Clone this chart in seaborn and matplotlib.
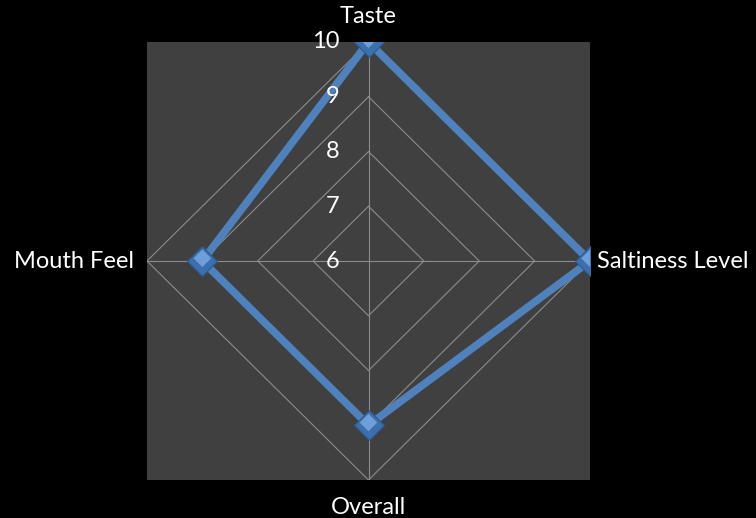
import numpy as np
import pandas as pd
import matplotlib
matplotlib.use("Agg")
import matplotlib.pyplot as plt
import seaborn as sns

# Radar chart data
categories = ["Taste", "Saltiness Level", "Overall", "Mouth Feel"]
scores = [10, 10, 9, 9]
scale_ticks = [6, 7, 8, 9, 10]
r_min, r_max = 6, 10

sns.set_theme(style="dark")
plt.rcParams["font.family"] = ["Lato", "DejaVu Sans"]

fig = plt.figure(figsize=(7.56, 5.18), dpi=100, facecolor="black")
ax = fig.add_axes([147 / 756, 38 / 518, 443 / 756, 438 / 518])
ax.set_facecolor("#404040")
span = r_max - r_min
ax.set_xlim(-span, span)
ax.set_ylim(-span, span)
for s in ax.spines.values():
    s.set_visible(False)
ax.set_xticks([])
ax.set_yticks([])
ax.grid(False)

# Axes go clockwise from the top
n = len(categories)
angles = np.pi / 2 - np.arange(n) * 2 * np.pi / n
ux, uy = np.cos(angles), np.sin(angles)

grid_col = "#8c8c8c"
# Polygon gridlines at each scale step
for t in scale_ticks[1:]:
    rr = t - r_min
    gx = np.append(ux * rr, ux[0] * rr)
    gy = np.append(uy * rr, uy[0] * rr)
    ax.plot(gx, gy, color=grid_col, lw=0.8, zorder=1)
# Spokes
for i in range(n):
    ax.plot([0, ux[i] * span], [0, uy[i] * span], color=grid_col, lw=0.8, zorder=1)

# Series (closed polygon)
rad = np.array(scores) - r_min
df = pd.DataFrame({
    "x": np.append(ux * rad, ux[0] * rad[0]),
    "y": np.append(uy * rad, uy[0] * rad[0]),
})
sns.lineplot(data=df, x="x", y="y", sort=False, estimator=None, color="#4f81bd",
             lw=5.5, ax=ax, zorder=3, solid_joinstyle="miter")
pts = df.iloc[:-1]
ax.scatter(pts["x"], pts["y"], marker="D", s=230, color="#3c6fae",
           edgecolor="#2c5a92", linewidth=0.8, zorder=4)
ax.scatter(pts["x"], pts["y"] + 0.05, marker="D", s=80, color="#6f9fd8",
           edgecolor="none", zorder=5)
ax.set_xlabel("")
ax.set_ylabel("")

# Scale labels along the Taste spoke
for t in scale_ticks:
    ax.annotate(str(t), xy=(0, t - r_min), xytext=(-21, 0), textcoords="offset points",
                ha="right", va="center", color="white", fontsize=17,
                annotation_clip=False, zorder=6)

# Category labels
offsets = [(0, 11, "center", "bottom"), (5, 0, "left", "center"),
           (0, -12, "center", "top"), (-9, 0, "right", "center")]
for i, name in enumerate(categories):
    dx, dy, ha, va = offsets[i]
    ax.annotate(name, xy=(ux[i] * span, uy[i] * span), xytext=(dx, dy),
                textcoords="offset points", ha=ha, va=va, color="white",
                fontsize=17, annotation_clip=False)

fig.savefig("out.png", dpi=100, facecolor="black")
